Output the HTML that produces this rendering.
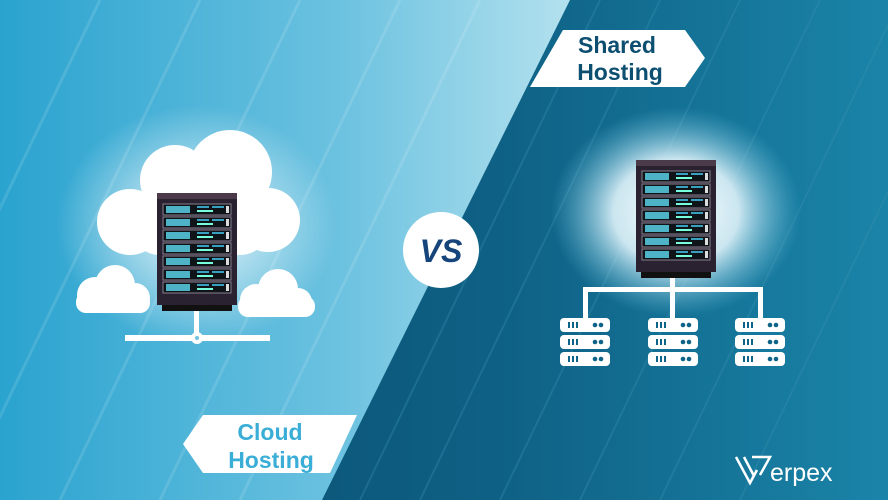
<!DOCTYPE html>
<html><head><meta charset="utf-8"><style>
html,body{margin:0;padding:0}
body{width:888px;height:500px;overflow:hidden;font-family:"Liberation Sans",sans-serif}
</style></head><body>
<svg width="888" height="500" viewBox="0 0 888 500" xmlns="http://www.w3.org/2000/svg" style="display:block">
<defs>
<linearGradient id="lg" x1="0" y1="0" x2="1" y2="0">
<stop offset="0" stop-color="#2aa3cf"/><stop offset="0.6" stop-color="#6cc2e0"/><stop offset="1" stop-color="#b3e1ee"/>
</linearGradient>
<linearGradient id="dg" x1="0" y1="0" x2="1" y2="0">
<stop offset="0" stop-color="#094a6c"/><stop offset="0.55" stop-color="#0e6084"/><stop offset="1" stop-color="#1a84a8"/>
</linearGradient>
<radialGradient id="glow1"><stop offset="0" stop-color="#fff" stop-opacity="0.9"/><stop offset="1" stop-color="#fff" stop-opacity="0"/></radialGradient>
<radialGradient id="glow2"><stop offset="0" stop-color="#fff" stop-opacity="1"/><stop offset="0.5" stop-color="#e0f3fa" stop-opacity="0.9"/><stop offset="1" stop-color="#6fc3df" stop-opacity="0"/></radialGradient>
<g id="srv">
<rect x="0" y="0" width="80" height="112" fill="#2a2230"/>
<rect x="0" y="0" width="80" height="6" fill="#4a3a4a"/>
<rect x="5" y="112" width="70" height="6" fill="#111"/>
<g id="unit"><rect x="6" y="11" width="68" height="11" fill="#0f1418" stroke="#8a8090"/><rect x="9" y="13" width="24" height="7" fill="#4fb3c8"/><rect x="40" y="13" width="12" height="2" fill="#3aa0c0"/><rect x="55" y="13" width="12" height="2" fill="#3aa0c0"/><rect x="40" y="17" width="16" height="2" fill="#7fd"/><rect x="69" y="13" width="3" height="7" fill="#ddd"/></g>
<use href="#unit" y="13"/><use href="#unit" y="26"/><use href="#unit" y="39"/><use href="#unit" y="52"/><use href="#unit" y="65"/><use href="#unit" y="78"/>
</g>
<g id="mini">
<rect x="0" y="0" width="50" height="14" rx="4" fill="#fff"/>
<rect x="8" y="4" width="2" height="6" fill="#0e6488"/><rect x="12" y="4" width="2" height="6" fill="#0e6488"/><rect x="16" y="4" width="2" height="6" fill="#0e6488"/>
<circle cx="35" cy="7" r="2.3" fill="#0e6488"/><circle cx="41" cy="7" r="2.3" fill="#0e6488"/>
</g>
</defs>
<rect width="888" height="500" fill="url(#dg)"/>
<g stroke="#3a8fb0" stroke-opacity="0.35" stroke-width="2">
<line x1="600" y1="0" x2="360" y2="500"/><line x1="660" y1="0" x2="420" y2="500"/><line x1="740" y1="0" x2="500" y2="500"/><line x1="820" y1="0" x2="580" y2="500"/><line x1="900" y1="0" x2="660" y2="500"/><line x1="980" y1="0" x2="740" y2="500"/>
</g>
<polygon points="0,0 570,0 322,500 0,500" fill="url(#lg)"/>
<g stroke="#fff" stroke-opacity="0.12" stroke-width="3">
<line x1="100" y1="0" x2="-140" y2="500"/><line x1="200" y1="0" x2="-40" y2="500"/><line x1="300" y1="0" x2="60" y2="500"/><line x1="400" y1="0" x2="160" y2="500"/><line x1="480" y1="0" x2="240" y2="500"/>
</g>
<ellipse cx="197" cy="225" rx="140" ry="120" fill="url(#glow1)"/>
<g fill="#fff">
<circle cx="230" cy="172" r="42"/><circle cx="175" cy="180" r="35"/><circle cx="130" cy="222" r="33"/><circle cx="268" cy="220" r="32"/>
<rect x="130" y="185" width="140" height="70" rx="30"/>
<circle cx="95" cy="295" r="18"/><circle cx="115" cy="285" r="20"/><circle cx="135" cy="298" r="15"/><rect x="76" y="292" width="74" height="21" rx="10"/>
<circle cx="256" cy="300" r="16"/><circle cx="278" cy="289" r="20"/><circle cx="298" cy="302" r="14"/><rect x="238" y="296" width="77" height="21" rx="10"/>
<rect x="194" y="305" width="5" height="33"/><rect x="125" y="335" width="145" height="6"/><circle cx="197" cy="338" r="6"/>
</g>
<circle cx="197" cy="338" r="2" fill="#6fc3df"/>
<use href="#srv" x="157" y="193"/>
<ellipse cx="676" cy="212" rx="125" ry="105" fill="url(#glow2)"/>
<use href="#srv" x="636" y="160"/>
<g fill="#fff">
<rect x="670" y="278" width="5" height="14"/>
<rect x="583" y="287" width="180" height="5"/>
<rect x="583" y="287" width="5" height="31"/><rect x="670" y="287" width="5" height="31"/><rect x="758" y="287" width="5" height="31"/>
</g>
<use href="#mini" x="560" y="318"/><use href="#mini" x="560" y="335"/><use href="#mini" x="560" y="352"/>
<use href="#mini" x="648" y="318"/><use href="#mini" x="648" y="335"/><use href="#mini" x="648" y="352"/>
<use href="#mini" x="735" y="318"/><use href="#mini" x="735" y="335"/><use href="#mini" x="735" y="352"/>
<circle cx="441" cy="250" r="38" fill="#fff"/>
<text x="441" y="262" text-anchor="middle" font-family="Liberation Sans" font-weight="bold" font-style="italic" font-size="32" fill="#15457a">VS</text>
<polygon points="563,30 685,30 705,58 685,87 530,87" fill="#fff"/>
<text x="617" y="53" text-anchor="middle" font-family="Liberation Sans" font-weight="bold" font-size="23" fill="#0d4f70">Shared</text>
<text x="620" y="80" text-anchor="middle" font-family="Liberation Sans" font-weight="bold" font-size="23" fill="#0d4f70">Hosting</text>
<polygon points="203,415 357,415 330,473 203,473 183,444" fill="#fff"/>
<text x="270" y="440" text-anchor="middle" font-family="Liberation Sans" font-weight="bold" font-size="23" fill="#3aaed6">Cloud</text>
<text x="271" y="468" text-anchor="middle" font-family="Liberation Sans" font-weight="bold" font-size="23" fill="#3aaed6">Hosting</text>
<path d="M736,457 L750,483 L757,470 M744,457 L754,476 M752,457 L770,457 L760,475" fill="none" stroke="#fff" stroke-width="2.5"/>
<text x="770" y="481" font-family="Liberation Sans" font-size="25" fill="#fff">erpex</text>
</svg>
</body></html>
